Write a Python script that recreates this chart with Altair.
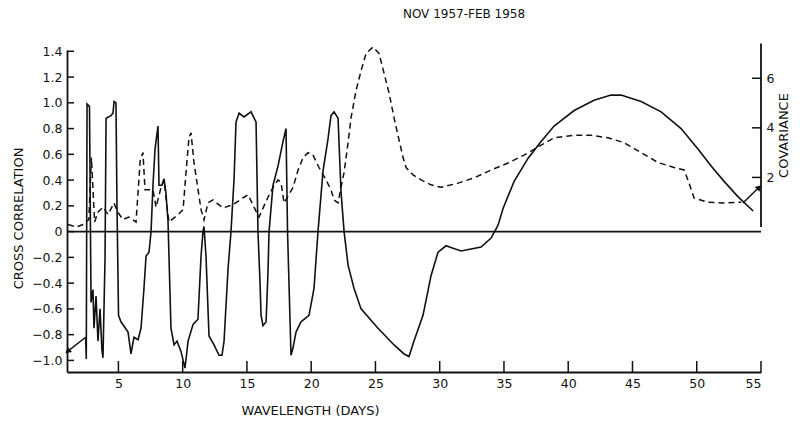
import altair as alt
import pandas as pd

# ---------------- data ----------------
# Cross correlation (solid line), wavelength in days
wl_corr = [2.45, 2.50, 2.56, 2.75, 2.87, 3.02, 3.10, 3.26, 3.41, 3.57, 3.72, 3.80, 3.96, 4.04,
           4.42, 4.58, 4.66, 4.81, 4.89, 5.01, 5.20, 5.75, 5.98, 6.21, 6.53, 6.76, 6.99, 7.15,
           7.38, 7.54, 7.69, 7.85, 8.08, 8.16, 8.39, 8.55, 8.70, 8.86, 9.09, 9.33, 9.56, 9.87,
           10.18, 10.42, 10.81, 11.19, 11.43, 11.58, 11.66, 11.82, 12.05, 12.44, 12.83, 13.06,
           13.22, 13.53, 13.76, 14.00, 14.15, 14.39, 14.77, 15.32, 15.71, 15.86, 16.02, 16.10,
           16.25, 16.49, 16.64, 16.72, 17.03, 17.42, 17.81, 18.04, 18.16, 18.43, 18.59, 18.82,
           19.21, 19.83, 20.22, 20.53, 20.92, 21.31, 21.54, 21.78, 22.09, 22.32, 22.56, 22.87,
           23.33, 23.88, 25.20, 26.45, 27.23, 27.61, 28.00, 28.70, 29.33, 29.87, 30.49, 31.04,
           31.66, 33.22, 34.00, 34.54, 34.93, 35.79, 36.88, 37.89, 38.90, 40.46, 42.01, 43.33,
           44.11, 45.67, 47.23, 48.78, 50.11, 51.12, 52.13, 53.22, 54.39]
corr = [-0.82, -0.99, 0.99, 0.97, -0.55, -0.45, -0.75, -0.50, -0.85, -0.60, -0.92, -0.98, -0.20, 0.88,
        0.90, 0.92, 1.01, 1.00, 0.20, -0.65, -0.70, -0.78, -0.95, -0.82, -0.84, -0.75, -0.44, -0.19,
        -0.16, 0.00, 0.36, 0.64, 0.82, 0.36, 0.36, 0.41, 0.30, 0.08, -0.75, -0.88, -0.85, -0.93,
        -1.06, -0.85, -0.72, -0.68, -0.19, 0.00, 0.04, -0.20, -0.81, -0.88, -0.96, -0.96,
        -0.85, -0.29, 0.00, 0.41, 0.85, 0.92, 0.89, 0.93, 0.85, 0.00, -0.40, -0.65,
        -0.73, -0.70, -0.31, 0.00, 0.36, 0.51, 0.70, 0.80, 0.00, -0.96, -0.90, -0.78,
        -0.70, -0.65, -0.44, 0.00, 0.47, 0.72, 0.90, 0.93, 0.88, 0.31, 0.00, -0.26,
        -0.44, -0.60, -0.75, -0.88, -0.95, -0.97, -0.85, -0.65, -0.34, -0.16, -0.11, -0.13,
        -0.15, -0.12, -0.05, 0.05, 0.18, 0.39, 0.57, 0.70, 0.82, 0.94, 1.02, 1.06,
        1.06, 1.01, 0.93, 0.80, 0.64, 0.51, 0.39, 0.27, 0.16]

# Covariance (dashed line)
wl_cov = [1.08, 1.70, 2.25, 2.70, 2.90, 3.05, 3.15, 3.41, 3.80, 4.20, 4.65, 4.95, 5.35, 5.80,
          6.37, 6.70, 6.91, 7.07, 7.69, 7.93, 8.32, 8.55, 8.78, 8.94, 9.64, 10.03, 10.26, 10.49,
          10.65, 10.88, 11.43, 11.66, 11.97, 12.36, 13.14, 13.92, 14.77, 15.09, 15.55, 15.94,
          16.64, 17.03, 17.42, 17.65, 17.89, 18.59, 18.98, 19.37, 19.76, 20.14, 20.61, 21.16,
          21.54, 21.78, 22.09, 22.32, 22.56, 22.87, 23.10, 23.49, 23.88, 24.27, 24.81, 25.28,
          25.67, 26.06, 26.45, 26.84, 27.15, 27.38, 27.93, 28.55, 29.33, 30.11, 31.43, 32.67,
          34.00, 35.32, 36.56, 37.89, 38.90, 40.46, 41.78, 43.10, 44.35, 45.67, 46.99, 48.24,
          49.02, 49.40, 49.79, 50.88, 52.13, 53.45]
cov = [0.10, 0.00, 0.10, 0.30, 2.80, 1.20, 0.20, 0.60, 0.80, 0.50, 0.97, 0.60, 0.30, 0.40,
       0.20, 2.70, 3.00, 1.50, 1.50, 0.80, 1.60, 1.90, 0.80, 0.20, 0.50, 0.70, 2.20, 3.60,
       3.80, 2.60, 0.70, 0.28, 0.97, 1.09, 0.77, 0.90, 1.20, 1.30, 0.80, 0.40,
       1.20, 1.60, 1.90, 1.80, 0.97, 1.60, 2.30, 2.80, 3.00, 2.90, 2.40, 1.90,
       1.50, 1.09, 0.97, 1.60, 2.20, 3.40, 4.40, 5.50, 6.30, 7.00, 7.26, 7.00,
       6.20, 5.40, 4.40, 3.50, 2.80, 2.40, 2.10, 1.90, 1.70, 1.60, 1.77, 1.98,
       2.30, 2.58, 2.90, 3.30, 3.60, 3.70, 3.70, 3.60, 3.40, 3.00, 2.60, 2.40,
       2.30, 1.77, 1.17, 1.00, 0.97, 1.00]

# axis tick values
x_ticks = [5, 10, 15, 20, 25, 30, 35, 40, 45, 50, 55]
corr_ticks = [1.4, 1.2, 1.0, 0.8, 0.6, 0.4, 0.2, 0.0, -0.2, -0.4, -0.6, -0.8, -1.0]
cov_ticks = [2, 4, 6]

# pointer arrows (which curve belongs to which axis)
arrow_l_wl = [2.45, 1.05]
arrow_l_corr = [-0.82, -0.93]
arrow_r_wl = [53.6, 54.85]
arrow_r_cov = [0.97, 1.6]

# ---------------- chart ----------------
W, H = 694, 322
INK = "#111111"
FONT = "DejaVu Sans"

xs = alt.Scale(domain=[1, 55], nice=False, zero=False)
ys_corr = alt.Scale(domain=[-1.09, 1.41], nice=False, zero=False)
ys_cov = alt.Scale(domain=[-5.85, 7.14], nice=False, zero=False)

df_corr = pd.DataFrame({"wl": wl_corr, "corr": corr})
df_cov = pd.DataFrame({"wl": wl_cov, "cov": cov})

LEFT_AXIS = alt.Axis(
    values=corr_ticks, title="CROSS CORRELATION", ticks=False, grid=False,
    domainColor=INK, domainWidth=1.8, labelPadding=5, labelOverlap=False,
    labelExpr="datum.value == 0 ? '0' : format(datum.value, '.1f')",
    titleX=-49, titleY=168, titleAngle=270, titleBaseline="middle", titleAlign="center")
BOTTOM_AXIS = alt.Axis(
    values=x_ticks, title="WAVELENGTH (DAYS)", ticks=False, grid=False,
    domainColor=INK, domainWidth=1.8, labelPadding=5, labelOverlap=False,
    titleX=243, titleY=32, titleBaseline="top", titleAnchor="middle", titleAlign="center")
RIGHT_AXIS = alt.Axis(
    orient="right", values=cov_ticks, title="COVARIANCE", ticks=False, domain=False,
    grid=False, labelPadding=5, labelOverlap=False,
    titleX=22, titleY=85, titleAngle=270, titleBaseline="middle", titleAlign="center")

XQ = alt.X("wl:Q", scale=xs, axis=BOTTOM_AXIS)
YC = alt.Y("corr:Q", scale=ys_corr, axis=LEFT_AXIS)
YV = alt.Y("cov:Q", scale=ys_cov, axis=RIGHT_AXIS)

solid = alt.Chart(df_corr).mark_line(color=INK, strokeWidth=1.6, clip=False).encode(
    x=XQ, y=YC, order=alt.Order("wl:Q"))

zero_line = alt.Chart(pd.DataFrame({"wl": [1], "wl2": [55], "corr": [0.0]})).mark_rule(
    color=INK, strokeWidth=1.8).encode(x=XQ, x2="wl2:Q", y=YC)

left_ticks = alt.Chart(pd.DataFrame({"corr": corr_ticks})).mark_rule(
    color=INK, strokeWidth=1.5).encode(y=YC, x=alt.value(0), x2=alt.value(7))

bottom_ticks = alt.Chart(pd.DataFrame({"wl": x_ticks})).mark_rule(
    color=INK, strokeWidth=1.5).encode(x=XQ, y=alt.value(H), y2=alt.value(H - 11))

arrow_l = alt.Chart(pd.DataFrame({"wl": arrow_l_wl, "corr": arrow_l_corr})).mark_line(
    color=INK, strokeWidth=1.5, clip=False).encode(x=XQ, y=YC)
arrow_l_head = alt.Chart(pd.DataFrame({"wl": arrow_l_wl[-1:], "corr": arrow_l_corr[-1:]})).mark_point(
    shape="triangle-up", filled=True, size=45, angle=230, color=INK, opacity=1).encode(x=XQ, y=YC)

left_group = alt.layer(solid, zero_line, left_ticks, bottom_ticks, arrow_l, arrow_l_head)

dashed = alt.Chart(df_cov).mark_line(
    color=INK, strokeWidth=1.5, strokeDash=[6, 4], clip=False).encode(
    x=XQ, y=YV, order=alt.Order("wl:Q"))

right_line = alt.Chart(pd.DataFrame({"cov": [0.0], "cov2": [7.4]})).mark_rule(
    color=INK, strokeWidth=1.8).encode(x=alt.value(W), y=YV, y2="cov2:Q")

right_ticks = alt.Chart(pd.DataFrame({"cov": cov_ticks})).mark_rule(
    color=INK, strokeWidth=1.5).encode(y=YV, x=alt.value(W - 9), x2=alt.value(W))

arrow_r = alt.Chart(pd.DataFrame({"wl": arrow_r_wl, "cov": arrow_r_cov})).mark_line(
    color=INK, strokeWidth=1.5, clip=False).encode(x=XQ, y=YV)
arrow_r_head = alt.Chart(pd.DataFrame({"wl": arrow_r_wl[-1:], "cov": arrow_r_cov[-1:]})).mark_point(
    shape="triangle-up", filled=True, size=45, angle=45, color=INK, opacity=1).encode(x=XQ, y=YV)

right_group = alt.layer(dashed, right_line, right_ticks, arrow_r, arrow_r_head)

chart = alt.layer(left_group, right_group).resolve_scale(y="independent").properties(
    width=W, height=H,
    title=alt.TitleParams("NOV 1957-FEB 1958", anchor="middle", dx=50, offset=22,
                          font=FONT, fontSize=12, fontWeight="normal", color=INK),
    autosize=alt.AutoSizeParams(type="none"),
    padding={"left": 59, "top": 42, "right": 31, "bottom": 45},
).configure_view(stroke=None).configure_axis(
    labelFont=FONT, labelFontSize=12.5, labelColor=INK, labelOverlap=False,
    titleFont=FONT, titleFontSize=13, titleFontWeight="normal", titleColor=INK,
)

chart.save("out.html", embed_options={"renderer": "svg", "actions": False})
